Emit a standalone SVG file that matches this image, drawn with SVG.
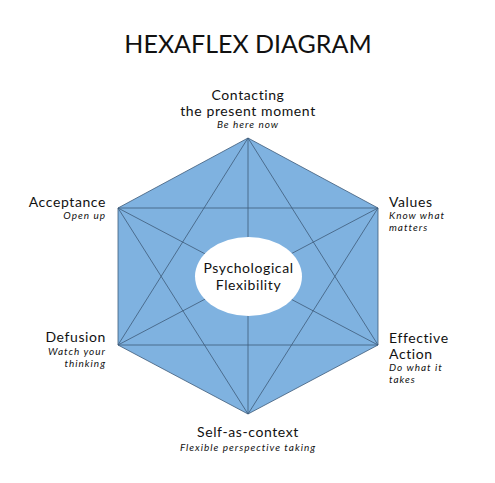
<svg xmlns="http://www.w3.org/2000/svg" width="495" height="483" viewBox="0 0 495 483">
<style>
.t{font-family:"Lato","Noto Sans","Liberation Sans",sans-serif;fill:#111}
.h{font-size:14px;letter-spacing:0.6px}
.s{font-size:10px;font-style:italic;letter-spacing:1px}
.ln{stroke:#3d5a78;stroke-width:0.8;fill:none}
</style>
<rect width="495" height="483" fill="#fff"/>
<text class="t" x="248" y="53" text-anchor="middle" font-size="25">HEXAFLEX DIAGRAM</text>
<g id="hexagon">
<polygon points="248,138 378,208 378,345 248,414 118,345 118,208" fill="#7fb2e0" stroke="#3d5a78" stroke-width="0.8"/>
</g>
<g id="connectors" class="ln">
<line x1="248" y1="138" x2="378" y2="345"/>
<line x1="378" y1="345" x2="118" y2="345"/>
<line x1="118" y1="345" x2="248" y2="138"/>
<line x1="248" y1="414" x2="118" y2="208"/>
<line x1="118" y1="208" x2="378" y2="208"/>
<line x1="378" y1="208" x2="248" y2="414"/>
<line x1="248" y1="138" x2="248" y2="414"/>
<line x1="118" y1="208" x2="378" y2="345"/>
<line x1="378" y1="208" x2="118" y2="345"/>
</g>
<g id="center">
<ellipse cx="248.5" cy="276.5" rx="53.5" ry="39.5" fill="#fff"/>
<text class="t h" x="248.5" y="273" text-anchor="middle">Psychological</text>
<text class="t h" x="248.5" y="290" text-anchor="middle">Flexibility</text>
</g>
<g id="contacting">
<text class="t h" x="248" y="100" text-anchor="middle">Contacting</text>
<text class="t h" x="248" y="115.5" text-anchor="middle">the present moment</text>
<text class="t s" x="248" y="128" text-anchor="middle">Be here now</text>
</g>
<g id="values">
<text class="t h" x="389" y="207">Values</text>
<text class="t s" x="389" y="219">Know what</text>
<text class="t s" x="389" y="230.5">matters</text>
</g>
<g id="effective-action">
<text class="t h" x="389" y="343">Effective</text>
<text class="t h" x="389" y="359">Action</text>
<text class="t s" x="389" y="371">Do what it</text>
<text class="t s" x="389" y="382.5">takes</text>
</g>
<g id="self-as-context">
<text class="t h" x="248" y="437" text-anchor="middle">Self-as-context</text>
<text class="t s" x="248" y="451" text-anchor="middle">Flexible perspective taking</text>
</g>
<g id="defusion">
<text class="t h" x="106" y="342" text-anchor="end">Defusion</text>
<text class="t s" x="106" y="355" text-anchor="end">Watch your</text>
<text class="t s" x="106" y="366.5" text-anchor="end">thinking</text>
</g>
<g id="acceptance">
<text class="t h" x="106" y="206.5" text-anchor="end">Acceptance</text>
<text class="t s" x="106" y="219" text-anchor="end">Open up</text>
</g>
</svg>
